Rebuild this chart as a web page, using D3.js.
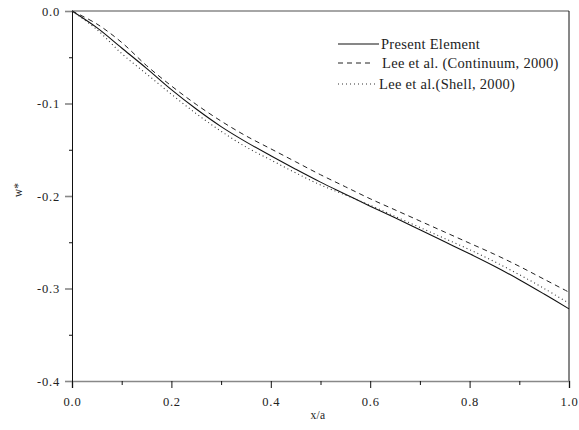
<!DOCTYPE html>
<html>
<head>
<meta charset="utf-8">
<script src="https://cdn.jsdelivr.net/npm/d3@7"></script>
<style>
  html, body { margin: 0; padding: 0; background: #fff; }
  svg { display: block; }
  svg text { font-family: "Liberation Serif", "Times New Roman", Times, serif; fill: #222; }
</style>
</head>
<body>
<svg id="chart" width="579" height="430"></svg>
<script>
// ---- data ----
const xValues = [0, 0.05, 0.1, 0.15, 0.2, 0.25, 0.3, 0.35, 0.4, 0.45, 0.5, 0.55, 0.6, 0.65, 0.7, 0.75, 0.8, 0.85, 0.9, 0.95, 1.0];
const presentElement = [0, -0.018, -0.040, -0.062, -0.085, -0.106, -0.125, -0.1415, -0.1565, -0.171, -0.185, -0.198, -0.211, -0.2235, -0.2365, -0.2495, -0.2625, -0.276, -0.2905, -0.306, -0.322];
const leeContinuum   = [0, -0.014, -0.034, -0.059, -0.081, -0.101, -0.119, -0.135, -0.149, -0.163, -0.177, -0.190, -0.203, -0.215, -0.227, -0.239, -0.251, -0.263, -0.276, -0.290, -0.304];
const leeShell       = [0, -0.020, -0.046, -0.068, -0.090, -0.111, -0.130, -0.147, -0.161, -0.175, -0.188, -0.199, -0.210, -0.222, -0.234, -0.246, -0.258, -0.271, -0.285, -0.300, -0.316];
const seriesNames = ["Present Element", "Lee et al. (Continuum, 2000)", "Lee et al.(Shell, 2000)"];
const xTicks = [0, 0.2, 0.4, 0.6, 0.8, 1.0];
const xMinorTicks = [0.1, 0.3, 0.5, 0.7, 0.9];
const yTicks = [0, -0.1, -0.2, -0.3, -0.4];
const yMinorTicks = [-0.05, -0.15, -0.25, -0.35];
const xLabel = "x/a";
const yLabel = "w*";

// ---- layout ----
const mLeft = 72, mRight = 569, mTop = 11, mBottom = 381;
const svg = d3.select("#chart");
const x = d3.scaleLinear().domain([0, 1]).range([mLeft, mRight]);
const y = d3.scaleLinear().domain([-0.4, 0]).range([mBottom, mTop]);

// frame
svg.append("line").attr("x1", mLeft).attr("x2", mRight).attr("y1", mTop).attr("y2", mTop)
  .attr("stroke", "#888").attr("stroke-width", 1.6);
svg.append("line").attr("x1", mRight).attr("x2", mRight).attr("y1", mTop).attr("y2", mBottom)
  .attr("stroke", "#111").attr("stroke-width", 1);

// x axis (bottom)
const xAxis = d3.axisBottom(x).tickValues(xTicks).tickFormat(d3.format(".1f")).tickSize(7).tickPadding(9);
const gx = svg.append("g").attr("transform", `translate(0,${mBottom})`).call(xAxis);
gx.attr("font-family", null).attr("font-size", null);
gx.select(".domain").attr("stroke", "#888").attr("stroke-width", 1.6);
gx.selectAll(".tick line").attr("stroke", "#111");
gx.selectAll(".tick text").attr("font-size", 12.5).attr("letter-spacing", "0.8px").attr("fill", "#333");
const gxm = svg.append("g").attr("transform", `translate(0,${mBottom})`)
  .call(d3.axisBottom(x).tickValues(xMinorTicks).tickSize(4).tickFormat(""));
gxm.select(".domain").remove();
gxm.selectAll(".tick line").attr("stroke", "#111");

// y axis (left)
const yAxis = d3.axisLeft(y).tickValues(yTicks).tickFormat(d3.format(".1f")).tickSize(7).tickPadding(5);
const gy = svg.append("g").attr("transform", `translate(${mLeft},0)`).call(yAxis);
gy.attr("font-family", null).attr("font-size", null);
gy.select(".domain").attr("stroke", "#111").attr("stroke-width", 1);
gy.selectAll(".tick line").attr("stroke", "#888").attr("stroke-width", 1.6);
gy.selectAll(".tick text").attr("font-size", 12.5).attr("letter-spacing", "0.8px").attr("fill", "#333")
  .text(d => d3.format(".1f")(d).replace("−", "-"));
const gym = svg.append("g").attr("transform", `translate(${mLeft},0)`)
  .call(d3.axisLeft(y).tickValues(yMinorTicks).tickSize(3).tickFormat(""));
gym.select(".domain").remove();
gym.selectAll(".tick line").attr("stroke", "#111");

// axis titles
svg.append("text").attr("x", x(0.495)).attr("y", 419).attr("text-anchor", "middle")
  .attr("font-size", 11.5).attr("letter-spacing", "0.3px").text(xLabel);
svg.append("text").attr("transform", `translate(22,${190}) rotate(-90)`).attr("text-anchor", "middle")
  .attr("font-size", 11.5).attr("letter-spacing", "0.3px").text(yLabel);

// curves
const line = d3.line().x((d, i) => x(xValues[i])).y(d => y(d)).curve(d3.curveCatmullRom.alpha(0.5));
const styles = [
  { data: presentElement, dash: null, width: 1.1, color: "#111" },
  { data: leeContinuum, dash: "5,4", width: 1, color: "#222" },
  { data: leeShell, dash: "1,3", width: 1.1, color: "#333" }
];
styles.forEach(s => {
  svg.append("path").datum(s.data).attr("d", line).attr("fill", "none")
    .attr("stroke", s.color).attr("stroke-width", s.width)
    .attr("stroke-dasharray", s.dash);
});

// legend
const legendRows = [44, 63, 84];
const legendLineEnd = [379, 370, 377];
const legendTextX = [381, 382, 379];
seriesNames.forEach((name, i) => {
  svg.append("line").attr("x1", 338).attr("x2", legendLineEnd[i])
    .attr("y1", legendRows[i]).attr("y2", legendRows[i])
    .attr("stroke", styles[i].color).attr("stroke-width", styles[i].width)
    .attr("stroke-dasharray", styles[i].dash);
  svg.append("text").attr("x", legendTextX[i]).attr("y", legendRows[i]).attr("dy", "0.35em")
    .attr("font-size", 14.5).attr("letter-spacing", "0.3px").text(name);
});
</script>
</body>
</html>
